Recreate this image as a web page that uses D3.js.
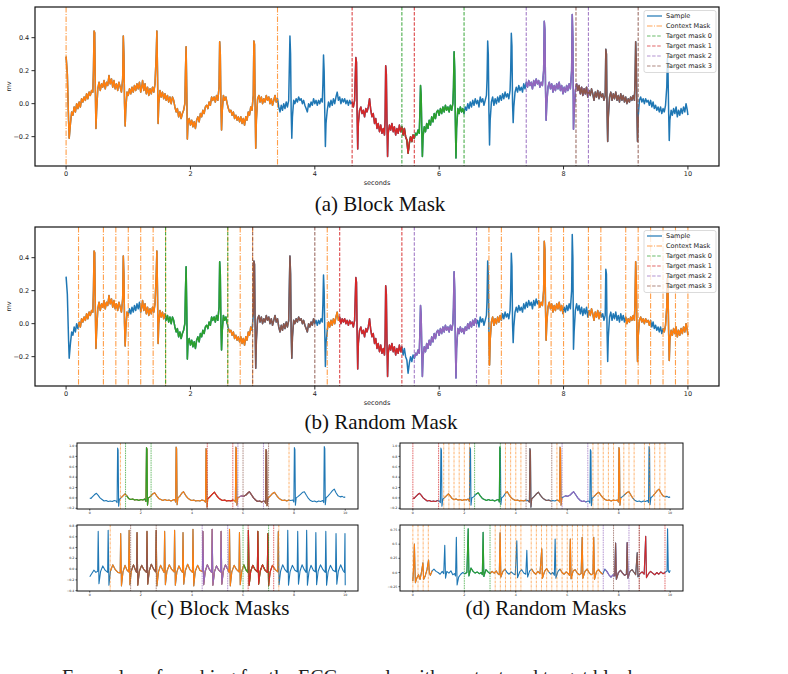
<!DOCTYPE html>
<html>
<head>
<meta charset="utf-8">
<script src="https://cdn.jsdelivr.net/npm/d3@7"></script>
<style>
  body { margin: 0; background: #fff; }
  svg { display: block; }
</style>
</head>
<body>
<script>
// ---- data ----

const timeTicks = [0, 2, 4, 6, 8, 10]
const mvTicksMain = [-0.2, 0, 0.2, 0.4]
const mvTicksSmallA = [-0.2, 0, 0.2, 0.4, 0.6, 0.8, 1.0]
const mvTicksSmallB = [-0.4, -0.2, 0, 0.2, 0.4, 0.6, 0.8]
const mvTicksSmallC = [-0.25, 0, 0.25, 0.5, 0.75]

const legendLabels = ["Sample", "Context Mask", "Target mask 0", "Target mask 1", "Target mask 2", "Target mask 3"]

// the sample used in (a) and (b): [seconds, mv]
const ecgMain = [
  [0.00,0.285],[0.02,0.18],[0.04,-0.10],[0.05,-0.21],[0.07,-0.12],[0.09,-0.05],[0.11,-0.07],[0.13,-0.02],[0.15,-0.05],[0.17,0.00],
  [0.19,-0.03],[0.21,0.01],[0.23,-0.02],[0.25,0.03],[0.27,0.01],[0.29,0.04],[0.31,0.02],[0.33,0.06],[0.35,0.03],[0.37,0.07],
  [0.39,0.05],[0.41,0.08],[0.43,0.07],[0.44,0.20],[0.45,0.44],[0.46,0.43],[0.47,0.10],[0.48,-0.15],[0.49,-0.05],[0.51,0.09],
  [0.53,0.13],[0.55,0.08],[0.57,0.12],[0.59,0.10],[0.61,0.14],[0.63,0.09],[0.65,0.13],[0.67,0.11],[0.69,0.17],[0.71,0.12],
  [0.73,0.15],[0.75,0.10],[0.77,0.14],[0.79,0.09],[0.81,0.12],[0.83,0.08],[0.85,0.13],[0.87,0.10],[0.89,0.07],[0.91,0.15],
  [0.92,0.41],[0.93,0.30],[0.94,0.00],[0.95,-0.135],[0.96,-0.03],[0.98,0.07],[1.00,0.05],[1.02,0.09],[1.04,0.06],[1.06,0.10],
  [1.08,0.07],[1.10,0.11],[1.12,0.08],[1.14,0.12],[1.16,0.09],[1.18,0.13],[1.20,0.07],[1.22,0.11],[1.23,0.14],[1.25,0.08],
  [1.27,0.12],[1.29,0.06],[1.31,0.10],[1.33,0.05],[1.35,0.09],[1.37,0.06],[1.39,0.10],[1.41,0.07],[1.43,0.12],[1.45,0.30],
  [1.46,0.44],[1.47,0.20],[1.48,-0.12],[1.49,0.00],[1.51,0.08],[1.53,0.04],[1.55,0.07],[1.57,0.03],[1.59,0.06],[1.61,0.02],
  [1.63,0.05],[1.65,0.01],[1.67,0.04],[1.69,0.00],[1.71,0.04],[1.73,0.02],[1.75,-0.02],[1.77,-0.05],[1.79,-0.03],[1.81,-0.08],
  [1.83,-0.05],[1.85,-0.09],[1.87,-0.06],[1.89,-0.04],[1.91,0.00],[1.92,0.20],[1.93,0.345],[1.94,0.10],[1.95,-0.215],[1.96,-0.12],
  [1.98,-0.09],[2.00,-0.13],[2.02,-0.10],[2.04,-0.14],[2.06,-0.11],[2.08,-0.15],[2.10,-0.10],[2.12,-0.08],[2.14,-0.11],[2.16,-0.06],
  [2.18,-0.08],[2.20,-0.04],[2.22,-0.06],[2.24,-0.02],[2.26,-0.01],[2.28,-0.03],[2.30,0.01],[2.32,-0.01],[2.34,0.04],[2.36,0.02],
  [2.38,0.04],[2.40,0.01],[2.42,0.05],[2.44,0.02],[2.46,0.10],[2.47,0.376],[2.48,0.30],[2.49,0.00],[2.50,-0.16],[2.51,-0.05],
  [2.53,0.05],[2.55,0.02],[2.57,0.04],[2.59,0.00],[2.61,-0.03],[2.63,-0.05],[2.65,-0.04],[2.67,-0.07],[2.69,-0.05],[2.71,-0.09],
  [2.73,-0.07],[2.75,-0.10],[2.77,-0.08],[2.79,-0.11],[2.81,-0.08],[2.83,-0.12],[2.85,-0.09],[2.87,-0.13],[2.89,-0.08],[2.91,-0.10],
  [2.93,-0.05],[2.95,-0.07],[2.97,-0.02],[2.99,-0.04],[3.01,0.05],[3.02,0.38],[3.03,0.36],[3.04,0.00],[3.05,-0.27],[3.06,-0.10],
  [3.08,0.03],[3.10,0.05],[3.12,0.01],[3.14,0.04],[3.16,0.00],[3.18,0.03],[3.20,0.01],[3.22,0.05],[3.24,0.02],[3.26,0.04],
  [3.28,0.00],[3.30,0.03],[3.32,-0.01],[3.34,0.02],[3.36,0.05],[3.38,0.01],[3.40,0.03],[3.42,-0.02],[3.44,-0.05],[3.46,-0.01],
  [3.48,-0.04],[3.50,0.00],[3.52,-0.03],[3.54,0.01],[3.56,-0.02],[3.58,0.02],[3.60,0.41],[3.61,0.30],[3.62,-0.05],[3.63,-0.21],
  [3.64,-0.08],[3.66,0.02],[3.68,0.00],[3.70,0.03],[3.72,0.01],[3.74,0.04],[3.76,0.02],[3.78,0.03],[3.80,0.00],[3.82,0.02],
  [3.84,-0.01],[3.86,-0.03],[3.88,-0.05],[3.90,0.00],[3.92,-0.02],[3.94,0.01],[3.96,-0.01],[3.98,0.03],[4.00,0.00],[4.02,0.02],
  [4.04,-0.01],[4.06,0.02],[4.08,0.00],[4.10,0.03],[4.12,0.01],[4.13,0.12],[4.14,0.295],[4.15,0.20],[4.16,-0.05],[4.17,-0.26],
  [4.18,-0.12],[4.20,-0.04],[4.22,0.01],[4.24,-0.02],[4.26,0.02],[4.28,-0.01],[4.30,0.03],[4.32,0.00],[4.34,0.04],[4.36,0.07],
  [4.38,0.02],[4.40,0.04],[4.42,0.00],[4.44,0.03],[4.46,0.01],[4.48,0.03],[4.50,0.00],[4.52,0.02],[4.54,-0.01],[4.56,0.02],
  [4.58,0.00],[4.60,0.01],[4.62,-0.02],[4.64,0.02],[4.66,0.28],[4.67,0.25],[4.68,-0.05],[4.69,-0.275],[4.70,-0.12],[4.72,-0.04],
  [4.74,-0.02],[4.76,-0.06],[4.78,-0.04],[4.80,-0.08],[4.82,-0.03],[4.84,-0.05],[4.86,-0.02],[4.88,0.03],[4.90,-0.04],[4.92,-0.08],
  [4.94,-0.06],[4.96,-0.12],[4.98,-0.09],[5.00,-0.15],[5.02,-0.12],[5.04,-0.17],[5.06,-0.13],[5.08,-0.18],[5.10,-0.15],[5.12,-0.19],
  [5.13,-0.10],[5.14,0.23],[5.15,0.18],[5.16,-0.10],[5.17,-0.32],[5.18,-0.18],[5.20,-0.13],[5.22,-0.16],[5.24,-0.12],[5.26,-0.17],
  [5.28,-0.14],[5.30,-0.19],[5.32,-0.15],[5.34,-0.18],[5.36,-0.13],[5.38,-0.17],[5.40,-0.14],[5.42,-0.19],[5.44,-0.15],[5.46,-0.20],
  [5.48,-0.22],[5.50,-0.30],[5.52,-0.24],[5.54,-0.20],[5.56,-0.23],[5.58,-0.19],[5.60,-0.21],[5.62,-0.18],[5.64,-0.19],[5.66,-0.16],
  [5.68,-0.18],[5.69,-0.05],[5.70,0.11],[5.71,0.05],[5.72,-0.15],[5.73,-0.32],[5.74,-0.20],[5.76,-0.14],[5.78,-0.17],[5.80,-0.12],
  [5.82,-0.15],[5.84,-0.10],[5.86,-0.13],[5.88,-0.08],[5.90,-0.11],[5.92,-0.06],[5.94,-0.09],[5.96,-0.05],[5.98,-0.04],[6.00,-0.07],
  [6.02,-0.03],[6.04,-0.06],[6.06,-0.02],[6.08,-0.05],[6.10,-0.01],[6.12,-0.04],[6.14,-0.02],[6.16,-0.05],[6.18,-0.01],[6.20,-0.04],
  [6.22,0.00],[6.23,0.10],[6.24,0.315],[6.25,0.20],[6.26,-0.10],[6.27,-0.33],[6.28,-0.15],[6.30,-0.03],[6.32,-0.06],[6.34,-0.02],
  [6.36,-0.05],[6.38,-0.03],[6.40,-0.06],[6.42,-0.02],[6.44,-0.04],[6.46,0.00],[6.48,-0.03],[6.50,0.01],[6.52,-0.02],[6.54,0.02],
  [6.56,-0.01],[6.58,0.03],[6.60,0.00],[6.62,0.02],[6.64,-0.02],[6.66,0.04],[6.68,0.01],[6.70,0.03],[6.72,-0.01],[6.74,0.02],
  [6.76,0.05],[6.77,0.15],[6.78,0.38],[6.79,0.30],[6.80,-0.05],[6.81,-0.25],[6.82,-0.10],[6.84,0.01],[6.86,0.04],[6.88,-0.01],
  [6.90,0.03],[6.92,0.00],[6.94,0.04],[6.96,0.01],[6.98,0.05],[7.00,0.02],[7.02,0.06],[7.04,0.03],[7.06,0.07],[7.08,0.04],
  [7.10,0.06],[7.12,0.03],[7.14,0.08],[7.15,0.20],[7.16,0.427],[7.17,0.35],[7.18,0.00],[7.19,-0.115],[7.20,-0.02],[7.22,0.07],
  [7.24,0.10],[7.26,0.07],[7.28,0.11],[7.30,0.08],[7.32,0.10],[7.34,0.07],[7.36,0.12],[7.38,0.09],[7.40,0.13],[7.42,0.10],
  [7.44,0.14],[7.46,0.11],[7.48,0.13],[7.50,0.09],[7.52,0.14],[7.54,0.11],[7.56,0.15],[7.58,0.12],[7.60,0.14],[7.62,0.10],
  [7.64,0.13],[7.66,0.11],[7.68,0.20],[7.69,0.50],[7.70,0.45],[7.71,0.10],[7.72,-0.10],[7.73,0.00],[7.75,0.10],[7.77,0.13],
  [7.79,0.09],[7.81,0.12],[7.83,0.07],[7.85,0.11],[7.87,0.08],[7.89,0.12],[7.91,0.09],[7.93,0.13],[7.95,0.08],[7.97,0.11],
  [7.99,0.06],[8.01,0.10],[8.03,0.07],[8.05,0.11],[8.07,0.08],[8.09,0.12],[8.11,0.09],[8.13,0.20],[8.14,0.54],[8.15,0.40],
  [8.16,-0.155],[8.17,-0.05],[8.19,0.08],[8.21,0.12],[8.23,0.08],[8.25,0.11],[8.27,0.06],[8.29,0.10],[8.31,0.05],[8.33,0.09],
  [8.35,0.06],[8.37,0.10],[8.39,0.04],[8.41,0.08],[8.43,0.05],[8.45,0.09],[8.47,0.06],[8.49,0.02],[8.51,0.07],[8.53,0.04],
  [8.55,0.08],[8.57,0.03],[8.59,0.07],[8.61,0.04],[8.63,0.06],[8.65,0.02],[8.67,0.05],[8.68,0.33],[8.69,0.30],[8.70,-0.05],
  [8.71,-0.23],[8.72,-0.08],[8.74,0.04],[8.76,0.07],[8.78,0.02],[8.80,0.06],[8.82,0.03],[8.84,0.07],[8.86,0.02],[8.88,0.05],
  [8.90,0.01],[8.92,0.06],[8.94,0.02],[8.96,0.05],[8.98,0.01],[9.00,0.04],[9.02,0.00],[9.04,0.03],[9.06,0.01],[9.08,0.04],
  [9.10,0.02],[9.12,0.05],[9.14,0.02],[9.15,0.15],[9.16,0.376],[9.17,0.25],[9.18,-0.05],[9.19,-0.23],[9.20,-0.08],[9.22,0.02],
  [9.24,0.04],[9.26,0.01],[9.28,0.03],[9.30,0.00],[9.32,0.03],[9.34,0.01],[9.36,0.02],[9.38,-0.01],[9.40,0.02],[9.42,-0.02],
  [9.44,0.01],[9.46,-0.03],[9.48,-0.01],[9.50,-0.04],[9.52,-0.02],[9.54,-0.05],[9.56,-0.02],[9.58,-0.06],[9.60,-0.03],[9.62,-0.05],
  [9.64,-0.01],[9.66,0.10],[9.67,0.275],[9.68,0.20],[9.69,-0.05],[9.70,-0.224],[9.71,-0.10],[9.73,-0.04],[9.75,-0.07],[9.77,-0.03],
  [9.79,-0.06],[9.81,-0.02],[9.83,-0.08],[9.85,-0.04],[9.87,-0.07],[9.89,-0.03],[9.91,-0.06],[9.93,-0.02],[9.95,-0.05],[9.97,0.00],
  [9.99,-0.04],[10.00,-0.07]
]

// sample shown in the top row of (c) and (d)
const ecgSmallA = [
  [0,0.0],[0.05,-0.01],[0.1,0.02],[0.18,0.06],[0.26,0.09],[0.33,0.05],[0.4,0.0],[0.48,-0.03],[0.56,-0.06],[0.64,-0.05],
  [0.72,-0.07],[0.8,-0.06],[0.88,-0.07],[0.96,-0.05],[1.03,-0.06],[1.07,-0.09],[1.09,0.96],[1.11,0.92],[1.13,-0.16],[1.16,-0.03],
  [1.22,0.0],[1.3,0.04],[1.38,0.08],[1.45,0.04],[1.52,-0.01],[1.6,-0.03],[1.68,-0.02],[1.76,-0.04],[1.84,-0.03],[1.92,-0.05],
  [2.0,-0.03],[2.08,-0.04],[2.15,-0.02],[2.2,-0.07],[2.22,0.97],[2.24,0.94],[2.26,-0.14],[2.29,0.0],[2.36,0.02],[2.45,0.07],
  [2.54,0.1],[2.62,0.04],[2.7,-0.01],[2.78,-0.03],[2.86,-0.05],[2.94,-0.03],[3.02,-0.05],[3.1,-0.04],[3.18,-0.06],[3.26,-0.04],
  [3.33,-0.03],[3.36,-0.08],[3.38,0.98],[3.40,0.95],[3.42,-0.13],[3.45,0.0],[3.52,0.03],[3.6,0.09],[3.67,0.12],[3.75,0.05],
  [3.83,0.0],[3.91,-0.03],[3.99,-0.05],[4.07,-0.04],[4.15,-0.06],[4.23,-0.05],[4.31,-0.06],[4.39,-0.04],[4.47,-0.05],[4.53,-0.08],
  [4.55,0.95],[4.57,0.9],[4.59,-0.18],[4.62,-0.02],[4.7,0.02],[4.79,0.07],[4.88,0.11],[4.96,0.05],[5.04,0.0],[5.12,-0.03],
  [5.2,-0.05],[5.28,-0.04],[5.36,-0.06],[5.44,-0.05],[5.52,-0.06],[5.6,-0.04],[5.67,-0.05],[5.70,-0.08],[5.72,0.98],[5.74,0.94],
  [5.76,-0.14],[5.79,0.0],[5.86,0.02],[5.94,0.04],[6.02,0.03],[6.1,0.05],[6.18,0.09],[6.25,0.12],[6.33,0.06],[6.41,0.0],
  [6.49,-0.04],[6.57,-0.07],[6.65,-0.06],[6.73,-0.08],[6.81,-0.06],[6.86,-0.07],[6.88,-0.1],[6.90,0.93],[6.92,0.9],[6.94,-0.15],
  [6.97,-0.01],[7.05,0.03],[7.14,0.08],[7.23,0.11],[7.31,0.05],[7.39,0.0],[7.47,-0.03],[7.55,-0.05],[7.63,-0.04],[7.71,-0.06],
  [7.79,-0.04],[7.87,-0.05],[7.95,-0.04],[7.99,-0.08],[8.01,0.97],[8.03,0.93],[8.05,-0.14],[8.08,0.0],[8.16,0.03],[8.25,0.07],
  [8.34,0.11],[8.4,0.12],[8.48,0.05],[8.56,-0.01],[8.64,-0.05],[8.72,-0.07],[8.8,-0.06],[8.88,-0.08],[8.96,-0.06],[9.04,-0.07],
  [9.12,-0.05],[9.16,-0.09],[9.18,0.99],[9.20,0.95],[9.22,-0.13],[9.25,0.0],[9.33,0.04],[9.42,0.09],[9.5,0.14],[9.57,0.17],
  [9.64,0.1],[9.72,0.04],[9.8,0.02],[9.88,0.03],[9.95,0.01],[10,0.02]
]

// sample shown in the bottom row of (c)
const ecgSmallB = [
  [0.00,-0.14],[0.08,-0.08],[0.16,-0.02],[0.24,-0.06],[0.31,-0.04],[0.33,0.70],[0.36,-0.27],[0.42,-0.05],[0.51,0.06],[0.60,-0.02],
  [0.70,-0.06],[0.72,0.72],[0.75,-0.30],[0.81,-0.04],[0.90,0.08],[1.00,-0.01],[1.10,-0.06],[1.19,-0.07],[1.21,0.66],[1.24,-0.31],
  [1.30,-0.05],[1.38,0.07],[1.46,-0.02],[1.52,-0.05],[1.54,0.72],[1.57,-0.29],[1.63,-0.03],[1.71,0.08],[1.79,-0.02],[1.83,-0.06],
  [1.85,0.68],[1.88,-0.30],[1.94,-0.04],[2.03,0.07],[2.12,-0.01],[2.22,-0.06],[2.24,0.70],[2.27,-0.28],[2.33,-0.03],[2.41,0.09],
  [2.50,0.00],[2.58,-0.05],[2.60,0.72],[2.63,-0.31],[2.69,-0.05],[2.77,0.07],[2.85,-0.01],[2.91,-0.06],[2.93,0.70],[2.96,-0.29],
  [3.02,-0.04],[3.11,0.08],[3.20,0.00],[3.30,-0.05],[3.32,0.72],[3.35,-0.30],[3.41,-0.05],[3.49,0.06],[3.57,-0.02],[3.63,-0.06],
  [3.65,0.68],[3.68,-0.28],[3.74,-0.03],[3.83,0.09],[3.92,-0.01],[4.02,-0.06],[4.04,0.74],[4.07,-0.31],[4.13,-0.04],[4.22,0.07],
  [4.31,-0.02],[4.41,-0.05],[4.43,0.70],[4.46,-0.29],[4.52,-0.04],[4.60,0.08],[4.69,-0.01],[4.77,-0.06],[4.79,0.74],[4.82,-0.30],
  [4.88,-0.05],[4.96,0.06],[5.05,-0.02],[5.12,-0.05],[5.14,0.70],[5.17,-0.28],[5.23,-0.03],[5.31,0.08],[5.39,0.00],[5.45,-0.06],
  [5.47,0.74],[5.50,-0.31],[5.56,-0.05],[5.65,0.07],[5.75,-0.01],[5.84,-0.05],[5.86,0.68],[5.89,-0.29],[5.95,-0.04],[6.03,0.08],
  [6.12,-0.02],[6.19,-0.06],[6.21,0.72],[6.24,-0.30],[6.30,-0.04],[6.38,0.07],[6.47,-0.01],[6.56,-0.05],[6.58,0.70],[6.61,-0.28],
  [6.67,-0.04],[6.76,0.08],[6.86,-0.02],[6.95,-0.06],[6.97,0.66],[7.00,-0.31],[7.06,-0.05],[7.15,0.07],[7.26,-0.01],[7.36,-0.05],
  [7.38,0.70],[7.41,-0.29],[7.47,-0.04],[7.55,0.08],[7.64,-0.01],[7.73,-0.06],[7.75,0.72],[7.78,-0.30],[7.84,-0.05],[7.93,0.07],
  [8.03,-0.02],[8.12,-0.05],[8.14,0.70],[8.17,-0.28],[8.23,-0.04],[8.31,0.08],[8.40,-0.01],[8.47,-0.06],[8.49,0.72],[8.52,-0.30],
  [8.58,-0.05],[8.66,0.07],[8.75,-0.02],[8.83,-0.05],[8.85,0.68],[8.88,-0.29],[8.94,-0.04],[9.03,0.08],[9.13,-0.01],[9.22,-0.06],
  [9.24,0.70],[9.27,-0.30],[9.33,-0.05],[9.42,0.07],[9.52,-0.02],[9.62,-0.05],[9.64,0.66],[9.67,-0.28],[9.73,-0.04],[9.82,0.08],
  [9.92,-0.03],[9.97,-0.06],[9.99,0.66],[10.00,-0.30]
]

// sample shown in the bottom row of (d)
const ecgSmallC = [
  [0.00,-0.15],[0.03,0.10],[0.06,0.50],[0.08,0.10],[0.10,-0.18],[0.15,-0.10],[0.22,-0.04],[0.28,-0.12],[0.34,0.02],[0.39,0.17],
  [0.42,-0.12],[0.48,-0.06],[0.55,0.05],[0.61,0.22],[0.64,0.00],[0.68,-0.05],[0.75,0.03],[0.82,0.06],[0.90,0.02],[0.98,0.00],
  [1.06,-0.03],[1.14,0.02],[1.20,-0.02],[1.24,0.48],[1.27,-0.10],[1.32,0.02],[1.40,-0.01],[1.48,0.03],[1.55,-0.04],[1.62,-0.02],
  [1.66,-0.06],[1.69,0.62],[1.72,-0.22],[1.78,-0.08],[1.86,-0.03],[1.94,0.00],[2.02,-0.02],[2.10,0.00],[2.15,0.77],[2.18,-0.06],
  [2.26,0.08],[2.34,0.02],[2.42,-0.01],[2.50,0.01],[2.58,-0.02],[2.66,0.00],[2.70,-0.04],[2.73,0.71],[2.76,-0.07],[2.84,0.05],
  [2.92,0.01],[3.00,-0.02],[3.08,0.02],[3.16,-0.01],[3.24,0.03],[3.30,-0.02],[3.36,-0.04],[3.39,0.70],[3.42,-0.08],[3.50,0.02],
  [3.58,0.06],[3.66,0.00],[3.74,-0.03],[3.82,0.01],[3.90,-0.02],[3.98,-0.04],[4.04,0.56],[4.07,-0.09],[4.15,0.01],[4.23,0.05],
  [4.31,-0.01],[4.39,-0.03],[4.43,0.39],[4.46,-0.08],[4.54,0.03],[4.62,0.06],[4.70,0.00],[4.78,-0.03],[4.86,0.02],[4.94,-0.02],
  [5.01,0.42],[5.04,-0.10],[5.12,0.02],[5.20,0.07],[5.28,0.01],[5.36,-0.03],[5.44,0.00],[5.50,-0.05],[5.53,0.59],[5.56,-0.10],
  [5.64,0.02],[5.72,0.06],[5.80,0.00],[5.88,-0.03],[5.96,0.01],[6.04,-0.02],[6.09,-0.05],[6.12,0.59],[6.15,-0.11],[6.23,0.03],
  [6.31,0.05],[6.39,-0.01],[6.47,-0.04],[6.54,-0.02],[6.58,0.62],[6.61,-0.10],[6.69,0.02],[6.77,0.06],[6.85,0.00],[6.93,-0.04],
  [7.00,-0.02],[7.03,0.62],[7.06,-0.12],[7.14,0.02],[7.22,0.05],[7.30,0.00],[7.38,-0.03],[7.46,0.06],[7.54,0.02],[7.62,-0.04],
  [7.70,-0.08],[7.78,-0.04],[7.85,-0.06],[7.88,0.52],[7.91,-0.12],[7.99,0.00],[8.07,0.04],[8.15,-0.01],[8.23,-0.05],[8.30,-0.03],
  [8.33,0.53],[8.36,-0.10],[8.44,0.02],[8.52,0.05],[8.60,0.00],[8.66,-0.04],[8.72,0.35],[8.75,-0.08],[8.83,-0.02],[8.91,0.01],
  [8.99,-0.03],[9.05,0.64],[9.08,-0.09],[9.16,-0.02],[9.24,0.02],[9.32,-0.01],[9.40,-0.04],[9.48,0.00],[9.56,-0.03],[9.64,0.01],
  [9.72,-0.02],[9.80,0.00],[9.88,0.03],[9.90,0.77],[9.93,0.02],[9.97,0.00],[10.00,0.04]
]

// masks: context spans, context boundary lines, target spans (mask 0..3)
const blockContext = [[0, 3.4]]
const blockContextLines = [0, 3.4]
const blockTargets = [[5.4, 6.4], [4.6, 5.6], [7.4, 8.4], [8.2, 9.2]]

const randomContext = [[0.2, 1.0], [1.2, 1.6], [2.6, 3.0], [4.2, 4.4], [6.8, 7.0], [7.6, 8.0], [8.4, 8.6], [9.0, 9.4], [9.6, 10.0]]
const randomContextLines = [0.2, 0.6, 0.8, 1.0, 1.2, 1.4, 1.6, 2.6, 2.8, 3.0, 4.2, 6.8, 7.0, 7.6, 7.8, 8.0, 8.4, 8.6, 9.0, 9.2, 9.4, 9.6, 9.8, 10.0]
const randomTargets = [[1.6, 2.6], [4.4, 5.4], [5.6, 6.6], [3.0, 4.0]]

const blockContextC1 = [[1.2, 7.8]]
const blockContextLinesC1 = [1.2, 7.8]
const blockTargetsC1 = [[1.4, 2.4], [4.6, 5.6], [5.8, 6.8], [6.0, 7.0]]

const blockContextC2 = [[0.8, 7.4]]
const blockContextLinesC2 = [0.8, 7.4]
const blockTargetsC2 = [[6.0, 7.0], [6.2, 7.2], [4.4, 5.4], [1.6, 2.6]]

const randomContextD1 = [[1.2, 2.2], [3.6, 4.4], [5.6, 5.8], [7.0, 8.1], [8.2, 8.6], [9.3, 9.8]]
const randomContextLinesD1 = [1.2, 1.4, 1.6, 1.8, 2.0, 2.2, 3.6, 3.8, 4.0, 4.2, 5.6, 7.0, 7.2, 7.4, 7.6, 7.8, 8.2, 8.4, 8.6, 9.0, 9.2, 9.4, 9.6, 9.8]
const randomTargetsD1 = [[2.4, 3.4], [0, 1.0], [5.8, 6.8], [4.4, 5.4]]

const randomContextD2 = [[0, 0.8], [3.0, 3.6], [4.6, 5.3], [5.7, 7.4]]
const randomContextLinesD2 = [0, 0.2, 0.4, 0.6, 3.2, 3.4, 3.6, 3.8, 4.0, 4.2, 4.6, 4.8, 5.0, 5.2, 5.4, 5.6, 5.8, 6.0, 6.2, 6.4, 6.6, 6.8, 7.0, 7.2]
const randomTargetsD2 = [[2.0, 3.0], [8.8, 9.8], [7.4, 8.4], [7.8, 8.8]]

// ---- drawing ----

const sampleColor = "#1f77b4"
const contextColor = "#ff7f0e"
const targetColors = ["#2ca02c", "#d62728", "#9467bd", "#8c564b"]

let svg = d3.select("body").append("svg")
    .attr("width", 788)
    .attr("height", 674)

svg.append("rect").attr("width", 788).attr("height", 674).attr("fill", "#fff")

const tickFmt = d => d3.format(".1f")(d).replace("-", "\u2212")
const tickFmt2 = d => (d % 0.5 === 0 ? d3.format(".1f")(d) : d3.format(".2f")(d)).replace("-", "\u2212")

function drawPanel(o) {
    let x = d3.scaleLinear().domain([-0.5, 10.5]).range([o.left, o.right])
    let y = d3.scaleLinear().domain(o.yDomain).range([o.bottom, o.top])
    let g = svg.append("g")
    let line = d3.line().x(d => x(d[0])).y(d => y(d[1]))
    let span = (s) => o.data.filter(d => d[0] >= s[0] - 0.005 && d[0] <= s[1] + 0.005)

    // whole sample
    g.append("path").datum(o.data)
        .attr("d", line)
        .attr("fill", "none")
        .attr("stroke", sampleColor)
        .attr("stroke-width", o.lw)
        .attr("stroke-linejoin", "round")

    // context part of the signal
    o.context.forEach(s => {
        g.append("path").datum(span(s))
            .attr("d", line)
            .attr("fill", "none")
            .attr("stroke", contextColor)
            .attr("stroke-width", o.lw)
            .attr("stroke-linejoin", "round")
    })

    // target parts, later masks on top
    o.targets.forEach((s, i) => {
        g.append("path").datum(span(s))
            .attr("d", line)
            .attr("fill", "none")
            .attr("stroke", targetColors[i])
            .attr("stroke-width", o.lw)
            .attr("stroke-linejoin", "round")
    })

    // vertical mask boundaries
    o.contextLines.forEach(t => {
        g.append("line")
            .attr("x1", x(t)).attr("x2", x(t))
            .attr("y1", o.top).attr("y2", o.bottom)
            .attr("stroke", contextColor)
            .attr("stroke-width", o.vlw)
            .attr("stroke-opacity", 0.75)
            .attr("stroke-dasharray", o.dashDot)
    })
    o.targets.forEach((s, i) => {
        s.forEach(t => {
            g.append("line")
                .attr("x1", x(t)).attr("x2", x(t))
                .attr("y1", o.top).attr("y2", o.bottom)
                .attr("stroke", targetColors[i])
                .attr("stroke-width", o.vlw)
                .attr("stroke-opacity", 0.85)
                .attr("stroke-dasharray", o.dash)
        })
    })

    // frame
    g.append("rect")
        .attr("x", o.left).attr("y", o.top)
        .attr("width", o.right - o.left).attr("height", o.bottom - o.top)
        .attr("fill", "none")
        .attr("stroke", "#111")
        .attr("stroke-width", o.frame)

    // x ticks
    timeTicks.forEach(t => {
        g.append("line")
            .attr("x1", x(t)).attr("x2", x(t))
            .attr("y1", o.bottom).attr("y2", o.bottom + o.tickLen)
            .attr("stroke", "#222").attr("stroke-width", o.frame * 0.8)
        g.append("text")
            .attr("x", x(t)).attr("y", o.bottom + o.tickLen + o.fs * 1.05)
            .attr("text-anchor", "middle")
            .attr("font-family", "DejaVu Sans, sans-serif")
            .attr("font-size", o.fs)
            .attr("fill", "#222")
            .text(t)
    })
    // y ticks
    o.yTicks.forEach(v => {
        g.append("line")
            .attr("x1", o.left - o.tickLen).attr("x2", o.left)
            .attr("y1", y(v)).attr("y2", y(v))
            .attr("stroke", "#222").attr("stroke-width", o.frame * 0.8)
        g.append("text")
            .attr("x", o.left - o.tickLen - o.fs * 0.35).attr("y", y(v))
            .attr("dy", "0.35em")
            .attr("text-anchor", "end")
            .attr("font-family", "DejaVu Sans, sans-serif")
            .attr("font-size", o.fs)
            .attr("fill", "#222")
            .text(o.fmt(v))
    })

    if (o.axisLabels) {
        g.append("text")
            .attr("x", (o.left + o.right) / 2).attr("y", o.bottom + 19)
            .attr("text-anchor", "middle")
            .attr("font-family", "DejaVu Sans, sans-serif")
            .attr("font-size", o.fs)
            .attr("fill", "#222")
            .text("seconds")
        g.append("text")
            .attr("transform", "translate(" + 10.5 + "," + ((o.top + o.bottom) / 2) + ") rotate(-90)")
            .attr("text-anchor", "middle")
            .attr("font-family", "DejaVu Sans, sans-serif")
            .attr("font-size", o.fs)
            .attr("fill", "#222")
            .text("mv")
    }

    if (o.legend) {
        let lx = o.right - 75, ly = o.top + 3.5
        let leg = g.append("g")
        leg.append("rect")
            .attr("x", lx).attr("y", ly)
            .attr("width", 72).attr("height", 62)
            .attr("rx", 2)
            .attr("fill", "#fff").attr("fill-opacity", 0.8)
            .attr("stroke", "#ccc").attr("stroke-width", 0.7)
        legendLabels.forEach((lab, i) => {
            let yy = ly + 5.5 + i * 10
            let col = i === 0 ? sampleColor : i === 1 ? contextColor : targetColors[i - 2]
            leg.append("line")
                .attr("x1", lx + 3).attr("x2", lx + 18)
                .attr("y1", yy).attr("y2", yy)
                .attr("stroke", col)
                .attr("stroke-width", 1.2)
                .attr("stroke-opacity", i === 0 ? 1 : 0.7)
                .attr("stroke-dasharray", i === 0 ? null : i === 1 ? o.dashDot : o.dash)
            leg.append("text")
                .attr("x", lx + 22).attr("y", yy)
                .attr("dy", "0.35em")
                .attr("font-family", "DejaVu Sans, sans-serif")
                .attr("font-size", 6.5)
                .attr("fill", "#222")
                .text(lab)
        })
    }
}

function caption(txt, cx, by) {
    svg.append("text")
        .attr("x", cx).attr("y", by)
        .attr("text-anchor", "middle")
        .attr("font-family", "Liberation Serif, serif")
        .attr("font-size", 21)
        .attr("fill", "#111")
        .text(txt)
}

const bigStyle = {
    left: 35, right: 719, yDomain: [-0.378, 0.586], yTicks: mvTicksMain, fmt: tickFmt,
    lw: 1.5, vlw: 1.1, frame: 1.2, tickLen: 3.5, fs: 6.5,
    dash: "3.5,1.6", dashDot: "5.5,1.5,1,1.5", axisLabels: true, legend: true
}
const smallStyle = {
    lw: 1.1, vlw: 0.8, frame: 1.0, tickLen: 1.5, fs: 3.2,
    dash: "1.6,0.8", dashDot: "2.4,0.7,0.5,0.7", axisLabels: false, legend: false
}

drawPanel(Object.assign({}, bigStyle, {
    top: 7, bottom: 166, data: ecgMain,
    context: blockContext, contextLines: blockContextLines, targets: blockTargets
}))
caption("(a) Block Mask", 380, 211)

drawPanel(Object.assign({}, bigStyle, {
    top: 227, bottom: 386, data: ecgMain,
    context: randomContext, contextLines: randomContextLines, targets: randomTargets
}))
caption("(b) Random Mask", 381, 429)

drawPanel(Object.assign({}, smallStyle, {
    left: 77, right: 358, top: 443, bottom: 509, data: ecgSmallA,
    yDomain: [-0.2135, 1.058], yTicks: mvTicksSmallA, fmt: tickFmt,
    context: blockContextC1, contextLines: blockContextLinesC1, targets: blockTargetsC1
}))
drawPanel(Object.assign({}, smallStyle, {
    left: 77, right: 358, top: 525, bottom: 591, data: ecgSmallB,
    yDomain: [-0.406, 0.819], yTicks: mvTicksSmallB, fmt: tickFmt,
    context: blockContextC2, contextLines: blockContextLinesC2, targets: blockTargetsC2
}))
caption("(c) Block Masks", 220, 615)

drawPanel(Object.assign({}, smallStyle, {
    left: 400, right: 683, top: 443, bottom: 509, data: ecgSmallA,
    yDomain: [-0.2135, 1.058], yTicks: mvTicksSmallA, fmt: tickFmt,
    context: randomContextD1, contextLines: randomContextLinesD1, targets: randomTargetsD1
}))
drawPanel(Object.assign({}, smallStyle, {
    left: 400, right: 683, top: 525, bottom: 591, data: ecgSmallC,
    yDomain: [-0.326, 0.838], yTicks: mvTicksSmallC, fmt: tickFmt2,
    context: randomContextD2, contextLines: randomContextLinesD2, targets: randomTargetsD2
}))
caption("(d) Random Masks", 546, 615)

// paper text running below the figure; only the tops of its letters reach the page, as in the source
svg.append("text")
    .attr("x", 62).attr("y", 684)
    .attr("font-family", "Liberation Serif, serif")
    .attr("font-size", 20)
    .attr("fill", "#222")
    .text("Examples of masking for the ECG sample with context and target blocks.")
</script>
</body>
</html>
